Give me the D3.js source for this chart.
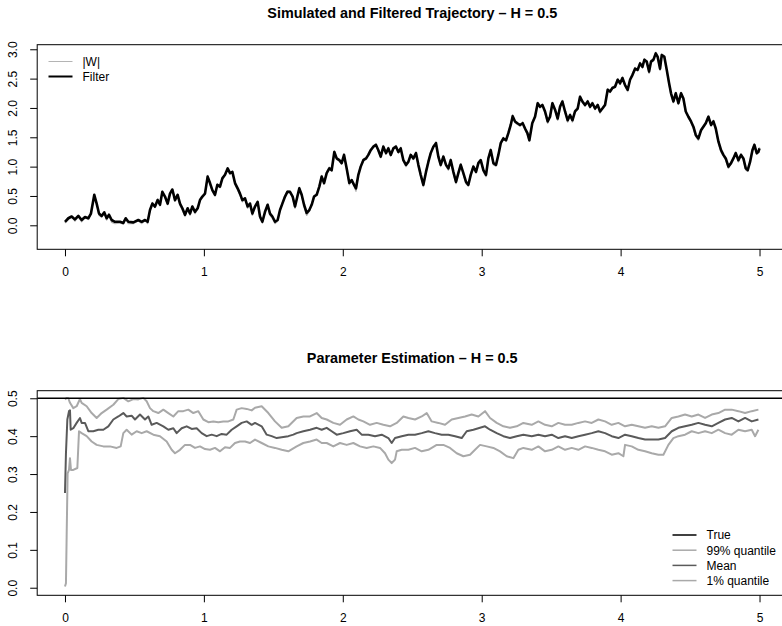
<!DOCTYPE html>
<html>
<head>
<meta charset="utf-8">
<script src="https://cdn.jsdelivr.net/npm/d3@7"></script>
<style>
  html, body { margin: 0; padding: 0; background: #fff; }
  svg { display: block; font-family: "Liberation Sans", Arial, Helvetica, sans-serif; }
</style>
</head>
<body>
<svg id="chart" width="782" height="626"></svg>
<script>
// ---- Simulated trajectory: time grid, filter estimate and |W| ----
const trajTime = [
  0, .024, .048, .072, .096, .12, .144, .168, .187, .211, .228, .245, .264, .283, .3, .317, .336, .36, .396, .42,
  .437, .456, .492, .528, .552, .576, .595, .612, .629, .648, .667, .684, .701, .72, .739, .756, .773, .792, .811, .828,
  .845, .864, .883, .9, .917, .936, .955, .972, .989, 1.008, 1.027, 1.044, 1.061, 1.08, 1.097, 1.116, 1.133, 1.152, 1.171, 1.188,
  1.205, 1.224, 1.243, 1.26, 1.277, 1.296, 1.315, 1.332, 1.349, 1.368, 1.387, 1.404, 1.421, 1.44, 1.459, 1.476, 1.493, 1.512, 1.531, 1.548,
  1.565, 1.584, 1.601, 1.62, 1.639, 1.656, 1.673, 1.687, 1.704, 1.721, 1.74, 1.759, 1.776, 1.793, 1.812, 1.831, 1.848, 1.865, 1.884, 1.903,
  1.92, 1.939, 1.956, 1.975, 1.992, 2.009, 2.028, 2.047, 2.064, 2.081, 2.095, 2.112, 2.129, 2.148, 2.167, 2.184, 2.201, 2.22, 2.239, 2.256,
  2.273, 2.292, 2.311, 2.328, 2.345, 2.364, 2.383, 2.4, 2.417, 2.436, 2.455, 2.472, 2.489, 2.508, 2.527, 2.544, 2.561, 2.58, 2.599, 2.616,
  2.633, 2.652, 2.671, 2.688, 2.705, 2.724, 2.743, 2.76, 2.777, 2.796, 2.815, 2.832, 2.849, 2.868, 2.887, 2.904, 2.921, 2.94, 2.959, 2.976,
  2.993, 3.012, 3.031, 3.048, 3.065, 3.084, 3.103, 3.12, 3.137, 3.156, 3.175, 3.192, 3.209, 3.223, 3.24, 3.257, 3.276, 3.295, 3.312, 3.329,
  3.343, 3.364, 3.384, 3.403, 3.42, 3.437, 3.456, 3.475, 3.492, 3.509, 3.528, 3.547, 3.564, 3.581, 3.6, 3.619, 3.636, 3.653, 3.672, 3.691,
  3.708, 3.725, 3.744, 3.763, 3.78, 3.797, 3.816, 3.835, 3.852, 3.869, 3.888, 3.907, 3.924, 3.941, 3.96, 3.979, 3.996, 4.013, 4.032, 4.051,
  4.068, 4.085, 4.104, 4.123, 4.14, 4.157, 4.171, 4.188, 4.205, 4.219, 4.236, 4.253, 4.267, 4.284, 4.296, 4.315, 4.332, 4.349, 4.363, 4.38,
  4.397, 4.416, 4.435, 4.452, 4.469, 4.488, 4.507, 4.524, 4.541, 4.56, 4.579, 4.596, 4.613, 4.632, 4.651, 4.668, 4.685, 4.704, 4.723, 4.74,
  4.757, 4.776, 4.795, 4.812, 4.829, 4.848, 4.867, 4.884, 4.901, 4.915, 4.932, 4.949, 4.963, 4.98, 4.992, 5.0
];
const filterValues = [
  .06, .12, .15, .10, .16, .09, .14, .12, .20, .52, .37, .20, .16, .22, .12, .18, .09, .06, .06, .04,
  .12, .06, .05, .09, .06, .09, .06, .26, .37, .32, .43, .35, .57, .49, .37, .54, .61, .43, .52, .37,
  .29, .18, .29, .20, .32, .23, .29, .43, .49, .54, .83, .72, .60, .52, .69, .66, .80, .86, .97, .89,
  .91, .72, .63, .54, .43, .46, .32, .37, .20, .32, .40, .15, .06, .23, .35, .20, .15, .06, .09, .26,
  .37, .49, .57, .57, .49, .32, .49, .63, .52, .35, .21, .26, .35, .49, .52, .66, .83, .72, .89, .97,
  .94, 1.25, 1.14, 1.11, 1.06, 1.20, .97, .72, .77, .69, .63, .86, 1.00, 1.11, 1.14, 1.20, 1.28, 1.34, 1.37, 1.28,
  1.17, 1.34, 1.23, 1.31, 1.20, 1.31, 1.34, 1.25, 1.31, 1.11, 1.03, 1.08, 1.20, 1.14, 1.23, 1.03, .86, .69, .91, 1.08,
  1.23, 1.34, 1.40, 1.17, 1.03, 1.17, 1.03, .97, 1.11, .91, .74, .89, 1.03, .89, .74, .69, .86, 1.00, .91, 1.06,
  1.11, .94, .86, 1.14, 1.28, 1.06, 1.03, 1.20, 1.40, 1.48, 1.45, 1.57, 1.71, 1.86, 1.77, 1.74, 1.71, 1.74, 1.65, 1.57,
  1.45, 1.74, 1.85, 2.08, 2.02, 2.05, 1.94, 1.77, 1.85, 2.08, 1.97, 1.82, 2.02, 2.11, 1.94, 1.79, 1.88, 1.79, 1.94, 1.99,
  2.19, 2.11, 2.05, 2.11, 2.02, 2.08, 1.99, 2.05, 1.94, 1.99, 2.05, 2.31, 2.28, 2.34, 2.36, 2.48, 2.42, 2.51, 2.39, 2.31,
  2.48, 2.56, 2.67, 2.65, 2.76, 2.70, 2.82, 2.79, 2.62, 2.79, 2.82, 2.93, 2.87, 2.67, 2.90, 2.87, 2.65, 2.42, 2.25, 2.11,
  2.25, 2.08, 2.25, 2.16, 1.94, 1.85, 1.77, 1.68, 1.54, 1.48, 1.62, 1.68, 1.74, 1.85, 1.71, 1.77, 1.65, 1.43, 1.28, 1.20,
  1.14, 1.00, 1.06, 1.14, 1.23, 1.11, 1.20, 1.14, .97, .94, 1.08, 1.28, 1.37, 1.23, 1.25, 1.31
];
const absWValues = [
  .04, .10, .16, .07, .15, .06, .13, .10, .21, .50, .38, .17, .14, .21, .09, .17, .05, .03, .04, .02,
  .11, .03, .03, .08, .03, .08, .03, .27, .39, .30, .45, .33, .58, .47, .35, .55, .62, .41, .53, .34,
  .26, .15, .28, .17, .33, .20, .27, .44, .47, .55, .85, .70, .58, .50, .70, .64, .82, .85, .98, .87,
  .92, .70, .60, .51, .40, .47, .29, .38, .17, .33, .41, .12, .04, .22, .36, .17, .12, .03, .07, .27,
  .38, .50, .59, .58, .47, .29, .50, .65, .50, .33, .17, .24, .36, .50, .54, .68, .85, .70, .91, .99,
  .92, 1.27, 1.12, 1.10, 1.04, 1.22, .94, .69, .78, .67, .58, .87, 1.02, 1.13, 1.12, 1.22, 1.30, 1.35, 1.39, 1.26,
  1.15, 1.36, 1.21, 1.33, 1.18, 1.32, 1.36, 1.23, 1.33, 1.09, 1.00, 1.10, 1.21, 1.12, 1.25, 1.00, .83, .66, .93, 1.10,
  1.25, 1.35, 1.42, 1.14, 1.00, 1.19, 1.01, .94, 1.13, .88, .71, .91, 1.05, .87, .71, .67, .88, 1.02, .89, 1.08,
  1.12, .91, .83, 1.16, 1.30, 1.03, 1.01, 1.22, 1.42, 1.50, 1.43, 1.59, 1.73, 1.88, 1.75, 1.72, 1.69, 1.76, 1.63, 1.54,
  1.43, 1.76, 1.87, 2.10, 2.00, 2.07, 1.91, 1.74, 1.87, 2.10, 1.95, 1.79, 2.04, 2.13, 1.92, 1.76, 1.90, 1.76, 1.96, 2.01,
  2.21, 2.09, 2.03, 2.13, 2.00, 2.10, 1.97, 2.07, 1.91, 2.01, 2.07, 2.33, 2.26, 2.36, 2.38, 2.50, 2.40, 2.53, 2.37, 2.28,
  2.50, 2.58, 2.69, 2.63, 2.78, 2.68, 2.84, 2.77, 2.59, 2.81, 2.84, 2.95, 2.85, 2.64, 2.92, 2.89, 2.63, 2.40, 2.22, 2.09,
  2.27, 2.06, 2.27, 2.14, 1.92, 1.83, 1.75, 1.65, 1.51, 1.45, 1.64, 1.70, 1.76, 1.87, 1.69, 1.79, 1.63, 1.40, 1.25, 1.18,
  1.11, .97, 1.08, 1.16, 1.25, 1.08, 1.22, 1.12, .94, .92, 1.10, 1.30, 1.39, 1.21, 1.27, 1.33
];

// ---- Parameter estimation: running mean and 1% / 99% quantiles of H ----
const trueH = 0.5;
const meanTime = [
  0, .007, .017, .029, .036, .041, .06, .084, .108, .12, .144, .168, .204, .24, .276, .312, .348, .384, .42, .444,
  .48, .504, .54, .576, .6, .624, .66, .708, .744, .78, .804, .84, .876, .912, .948, .984, 1.02, 1.056, 1.092, 1.128,
  1.164, 1.2, 1.236, 1.272, 1.308, 1.344, 1.368, 1.416, 1.452, 1.488, 1.524, 1.56, 1.608, 1.644, 1.668, 1.716, 1.764, 1.812, 1.848, 1.884,
  1.92, 1.956, 2.004, 2.052, 2.1, 2.136, 2.184, 2.232, 2.28, 2.328, 2.352, 2.376, 2.424, 2.472, 2.52, 2.568, 2.616, 2.664, 2.712, 2.76,
  2.808, 2.856, 2.892, 2.94, 2.988, 3.024, 3.06, 3.108, 3.156, 3.204, 3.252, 3.3, 3.36, 3.408, 3.456, 3.504, 3.552, 3.6, 3.648, 3.696,
  3.744, 3.792, 3.84, 3.888, 3.936, 3.984, 4.032, 4.08, 4.128, 4.176, 4.224, 4.272, 4.32, 4.368, 4.416, 4.464, 4.512, 4.56, 4.608, 4.656,
  4.704, 4.752, 4.8, 4.848, 4.896, 4.944, 4.992
];
const meanValues = [
  .25, .355, .444, .466, .468, .417, .421, .435, .448, .435, .435, .413, .413, .417, .417, .426, .444, .452, .461, .452,
  .454, .444, .457, .444, .452, .43, .435, .426, .417, .421, .408, .421, .426, .419, .421, .408, .40, .404, .40, .406,
  .404, .417, .426, .435, .439, .43, .435, .426, .404, .40, .395, .397, .40, .404, .408, .413, .417, .422, .417, .422,
  .413, .404, .408, .413, .417, .404, .404, .40, .404, .395, .382, .395, .40, .404, .404, .408, .413, .408, .404, .404,
  .40, .395, .413, .417, .422, .426, .417, .408, .40, .395, .40, .404, .40, .404, .40, .404, .395, .40, .395, .40,
  .404, .408, .413, .408, .40, .395, .404, .40, .395, .391, .391, .391, .395, .413, .422, .426, .43, .435, .43, .426,
  .435, .444, .448, .439, .448, .439, .444
];
const q99Time = [
  0, .012, .024, .036, .06, .084, .108, .12, .156, .192, .228, .264, .3, .348, .384, .42, .456, .492, .528, .564,
  .588, .612, .636, .672, .708, .744, .78, .816, .852, .888, .924, .96, .996, 1.032, 1.068, 1.104, 1.14, 1.176, 1.212, 1.236,
  1.272, 1.308, 1.344, 1.368, 1.416, 1.464, 1.512, 1.56, 1.608, 1.668, 1.716, 1.764, 1.812, 1.848, 1.884, 1.932, 1.98, 2.028, 2.076, 2.112,
  2.148, 2.196, 2.244, 2.292, 2.34, 2.388, 2.436, 2.472, 2.52, 2.568, 2.604, 2.64, 2.688, 2.736, 2.784, 2.832, 2.88, 2.928, 2.976, 3.024,
  3.06, 3.108, 3.156, 3.204, 3.252, 3.3, 3.36, 3.408, 3.456, 3.504, 3.552, 3.6, 3.648, 3.696, 3.744, 3.792, 3.84, 3.888, 3.936, 3.984,
  4.032, 4.08, 4.128, 4.176, 4.224, 4.272, 4.32, 4.368, 4.416, 4.464, 4.512, 4.56, 4.608, 4.656, 4.704, 4.752, 4.8, 4.848, 4.896, 4.944,
  4.992
];
const q99Values = [
  .497, .501, .50, .488, .474, .479, .498, .488, .479, .461, .448, .461, .47, .483, .498, .501, .492, .498, .497, .501,
  .492, .474, .466, .461, .47, .461, .452, .466, .466, .47, .461, .466, .444, .437, .439, .437, .439, .439, .444, .47,
  .474, .472, .468, .475, .479, .461, .439, .422, .426, .448, .452, .452, .461, .448, .444, .435, .43, .444, .452, .444,
  .439, .43, .435, .43, .426, .435, .452, .448, .444, .452, .461, .439, .435, .43, .444, .448, .452, .457, .452, .466,
  .448, .435, .426, .422, .426, .435, .43, .439, .43, .426, .435, .43, .43, .435, .439, .435, .444, .439, .43, .435,
  .426, .43, .426, .422, .426, .422, .426, .448, .452, .457, .452, .457, .448, .457, .461, .47, .47, .466, .461, .466,
  .47
];
const q01Time = [
  0, .007, .012, .019, .029, .036, .043, .06, .089, .101, .12, .156, .192, .228, .276, .324, .372, .401, .42, .444,
  .48, .516, .552, .588, .636, .684, .732, .768, .792, .828, .864, .9, .936, .972, 1.008, 1.044, 1.08, 1.116, 1.152, 1.188,
  1.224, 1.26, 1.296, 1.332, 1.368, 1.416, 1.464, 1.512, 1.56, 1.608, 1.668, 1.716, 1.764, 1.812, 1.848, 1.884, 1.932, 1.98, 2.028, 2.076,
  2.124, 2.172, 2.22, 2.268, 2.304, 2.328, 2.352, 2.376, 2.388, 2.424, 2.472, 2.52, 2.568, 2.616, 2.676, 2.724, 2.772, 2.82, 2.868, 2.916,
  2.952, 2.988, 3.036, 3.084, 3.132, 3.18, 3.228, 3.264, 3.3, 3.36, 3.408, 3.456, 3.504, 3.552, 3.6, 3.648, 3.696, 3.744, 3.792, 3.84,
  3.888, 3.936, 3.984, 4.02, 4.032, 4.08, 4.128, 4.176, 4.224, 4.272, 4.308, 4.344, 4.38, 4.416, 4.464, 4.512, 4.56, 4.608, 4.656, 4.704,
  4.752, 4.8, 4.848, 4.896, 4.944, 4.968, 4.992
];
const q01Values = [
  .003, .012, .135, .302, .311, .342, .311, .311, .316, .413, .408, .40, .386, .377, .373, .373, .369, .373, .408, .417,
  .404, .413, .408, .413, .404, .40, .386, .364, .355, .364, .377, .377, .369, .373, .366, .364, .369, .36, .371, .369,
  .382, .386, .386, .382, .391, .382, .373, .369, .364, .36, .373, .382, .386, .391, .382, .382, .373, .382, .377, .382,
  .373, .369, .373, .369, .355, .338, .329, .338, .36, .364, .364, .369, .36, .364, .377, .377, .369, .355, .347, .351,
  .364, .377, .373, .369, .36, .347, .342, .364, .369, .364, .373, .36, .364, .373, .364, .369, .364, .373, .369, .364,
  .36, .351, .355, .347, .377, .373, .364, .36, .355, .351, .351, .377, .395, .40, .404, .413, .408, .413, .408, .417,
  .408, .404, .417, .413, .417, .40, .417
];

// ---- Axis ticks and legend entries ----
const xTicks = [0, 1, 2, 3, 4, 5];
const topYTicks = [0, 0.5, 1, 1.5, 2, 2.5, 3];
const bottomYTicks = [0, 0.1, 0.2, 0.3, 0.4, 0.5];
const topTitle = "Simulated and Filtered Trajectory \u2013 H = 0.5";
const bottomTitle = "Parameter Estimation \u2013 H = 0.5";
const topLegend = [
  { label: "|W|", color: "#b4b4b4", width: 1 },
  { label: "Filter", color: "#000000", width: 2 }
];
const bottomLegend = [
  { label: "True", color: "#000000", width: 1.5 },
  { label: "99% quantile", color: "#a9a9a9", width: 1.5 },
  { label: "Mean", color: "#5a5a5a", width: 1.5 },
  { label: "1% quantile", color: "#a9a9a9", width: 1.5 }
];

// ---- Layout ----
const svg = d3.select("#chart");
svg.append("rect").attr("width", 782).attr("height", 626).attr("fill", "#fff");

const FONT = 12;
const panels = [
  { top: 44.7, bottom: 249.3, yDomain: [-0.409, 3.078], yTicks: topYTicks, title: topTitle, titleY: 18 },
  { top: 390.7, bottom: 595.3, yDomain: [-0.02, 0.52], yTicks: bottomYTicks, title: bottomTitle, titleY: 363 }
];
const plotLeft = 37.2, plotRight = 787.3;
const x = d3.scaleLinear().domain([-0.2, 5.2]).range([plotLeft, plotRight]);

function drawFrame(p, yScale) {
  const g = svg.append("g");
  // title
  g.append("text")
    .attr("x", (plotLeft + plotRight) / 2).attr("y", p.titleY)
    .attr("text-anchor", "middle")
    .attr("font-weight", "bold").attr("font-size", 14.4)
    .text(p.title);

  // x axis
  const xa = g.append("g")
    .attr("transform", `translate(0,${p.bottom})`)
    .call(d3.axisBottom(x).tickValues(xTicks).tickSize(7).tickPadding(11).tickFormat(d3.format("d")));
  xa.select(".domain").remove();
  xa.selectAll("text").attr("font-size", FONT).attr("font-family", null).attr("fill", "#000");
  xa.selectAll("line").attr("stroke", "#000");

  // y axis (rotated labels)
  const ya = g.append("g")
    .attr("transform", `translate(${plotLeft},0)`)
    .call(d3.axisLeft(yScale).tickValues(p.yTicks).tickSize(7).tickFormat(d3.format(".1f")));
  ya.select(".domain").remove();
  ya.selectAll("line").attr("stroke", "#000");
  ya.selectAll(".tick text")
    .attr("font-size", FONT).attr("font-family", null).attr("fill", "#000")
    .attr("x", null).attr("dy", null)
    .attr("text-anchor", "middle")
    .attr("transform", "translate(-20,0) rotate(-90)");

  // frame
  g.append("rect")
    .attr("x", plotLeft).attr("y", p.top)
    .attr("width", plotRight - plotLeft).attr("height", p.bottom - p.top)
    .attr("fill", "none").attr("stroke", "#000").attr("stroke-width", 1);
}

function drawLegend(items, x0, y0, step) {
  const g = svg.append("g");
  items.forEach((it, i) => {
    const yy = y0 + i * step;
    g.append("line")
      .attr("x1", x0).attr("x2", x0 + 24).attr("y1", yy).attr("y2", yy)
      .attr("stroke", it.color).attr("stroke-width", it.width);
    g.append("text")
      .attr("x", x0 + 34).attr("y", yy).attr("dy", "0.36em")
      .attr("font-size", FONT).text(it.label);
  });
}

// ---- Top panel ----
{
  const p = panels[0];
  const y = d3.scaleLinear().domain(p.yDomain).range([p.bottom, p.top]);
  drawFrame(p, y);
  const line = (vals) => d3.line().x((d, i) => x(trajTime[i])).y(d => y(d))(vals);
  svg.append("path").attr("d", line(absWValues))
    .attr("fill", "none").attr("stroke", "#b4b4b4").attr("stroke-width", 1.4).attr("stroke-linejoin", "round");
  svg.append("path").attr("d", line(filterValues))
    .attr("fill", "none").attr("stroke", "#000").attr("stroke-width", 2.6).attr("stroke-linejoin", "round");
  drawLegend(topLegend, 48.5, 61.5, 15);
}

// ---- Bottom panel ----
{
  const p = panels[1];
  const y = d3.scaleLinear().domain(p.yDomain).range([p.bottom, p.top]);
  drawFrame(p, y);
  svg.append("clipPath").attr("id", "clipB")
    .append("rect").attr("x", plotLeft).attr("y", p.top).attr("width", plotRight - plotLeft).attr("height", p.bottom - p.top);
  const gl = svg.append("g").attr("clip-path", "url(#clipB)");
  const path = (ts, vs) => d3.line().x((d, i) => x(ts[i])).y(d => y(d))(vs);
  gl.append("path").attr("d", path(q99Time, q99Values))
    .attr("fill", "none").attr("stroke", "#a9a9a9").attr("stroke-width", 2).attr("stroke-linejoin", "round");
  gl.append("path").attr("d", path(q01Time, q01Values))
    .attr("fill", "none").attr("stroke", "#a9a9a9").attr("stroke-width", 2).attr("stroke-linejoin", "round");
  gl.append("path").attr("d", path(meanTime, meanValues))
    .attr("fill", "none").attr("stroke", "#5a5a5a").attr("stroke-width", 2).attr("stroke-linejoin", "round");
  gl.append("line")
    .attr("x1", plotLeft).attr("x2", plotRight).attr("y1", y(trueH)).attr("y2", y(trueH))
    .attr("stroke", "#000").attr("stroke-width", 1.6);
  drawLegend(bottomLegend, 672.5, 535, 15.2);
}
</script>
</body>
</html>
